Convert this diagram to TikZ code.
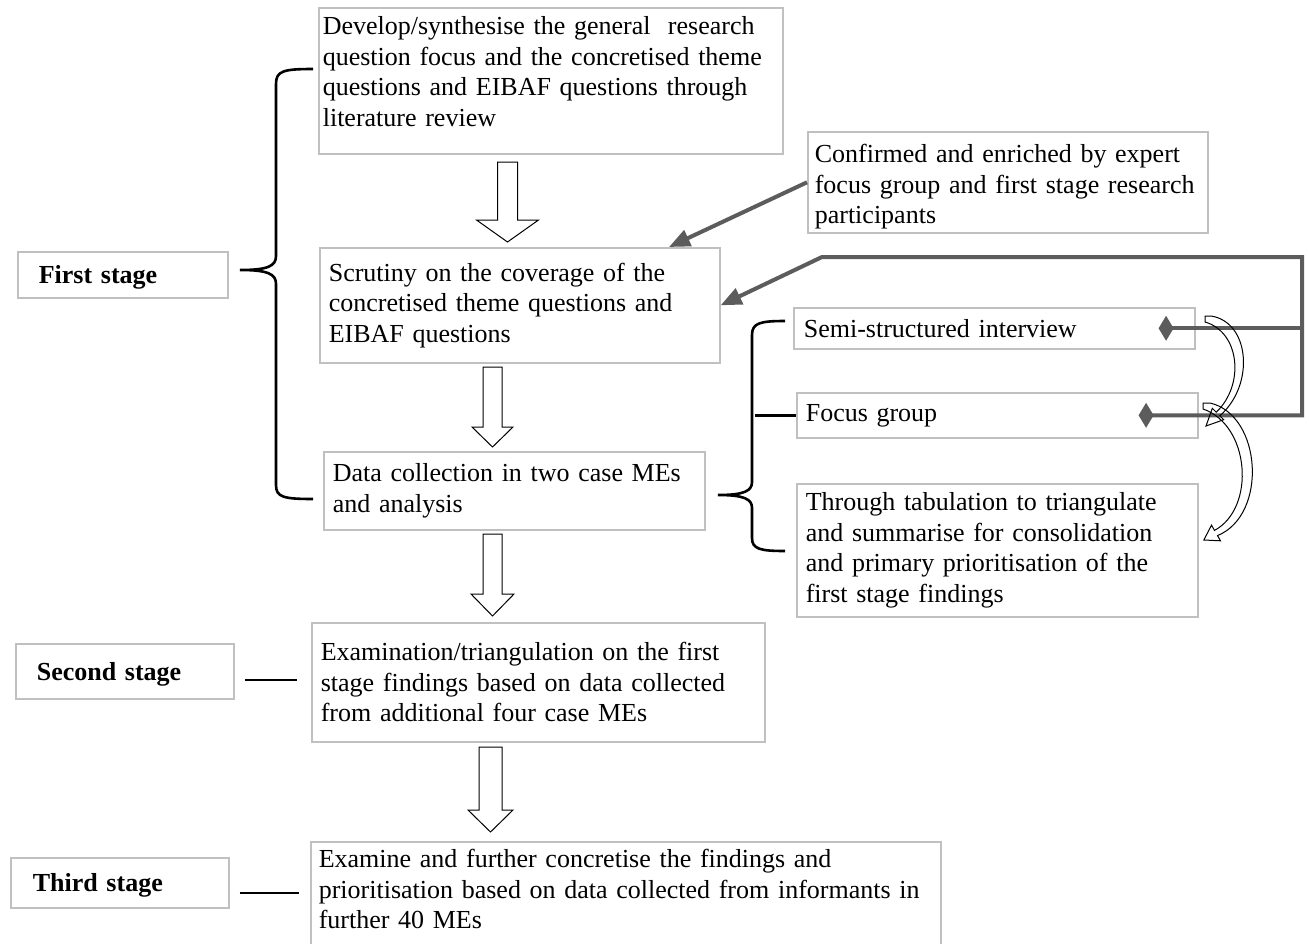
\documentclass[tikz,border=0pt]{standalone}
\usepackage{fontspec}
\setmainfont{Liberation Serif}
\usepackage{tikz}
\usetikzlibrary{calc,positioning,arrows.meta}
\usepackage{xcolor}
\definecolor{boxgray}{RGB}{192,192,192}
\definecolor{feedgray}{RGB}{92,92,92}

\begin{document}
\begin{tikzpicture}[x=1pt, y=-1pt,
    textbox/.style={draw=boxgray, line width=1.6pt, anchor=north west, align=left,
      inner xsep=9pt, inner ysep=0pt, font=\fontsize{26}{30.5}\selectfont},
    stagebox/.style={textbox, inner xsep=21pt, text depth=0pt},
    hollow/.style={draw=black, line width=1pt, line join=miter},
    bracket/.style={draw=black, line width=2.6pt},
    feed/.style={draw=feedgray, line width=4pt}]
  \useasboundingbox (0,0) rectangle (1309,943);

  % Main column
  \node[textbox, inner xsep=4pt, text width=456pt, minimum height=146pt, text depth=110pt] (dev) at (318,7)
    {Develop/synthesise the general~ research\\question focus and the concretised theme\\questions and EIBAF questions through\\literature review};
  \node[textbox, text width=382pt, minimum height=115pt] (scrut) at (319,247)
    {Scrutiny on the coverage of the\\concretised theme questions and\\EIBAF questions};
  \node[textbox, text width=363pt, minimum height=78pt] (data) at (323,451)
    {Data collection in two case MEs\\and analysis};
  \node[textbox, text width=435pt, minimum height=119pt] (exam) at (311,622)
    {Examination/triangulation on the first\\stage findings based on data collected\\from additional four case MEs};
  \node[textbox, inner xsep=8pt, text width=614pt, minimum height=104pt, text depth=70pt] (further) at (310,841)
    {Examine and further concretise the findings and\\\mbox{prioritisation based on data collected from informants in}\\further 40 MEs};

  % Side boxes
  \node[textbox, inner xsep=7pt, text width=386pt, minimum height=101pt, text depth=57pt] (conf) at (807,131)
    {Confirmed and enriched by expert\\\mbox{focus group and first stage research}\\participants};
  \node[textbox, inner xsep=10pt, text width=381pt, minimum height=41pt] (semi) at (793,307)
    {Semi-structured interview};
  \node[textbox, text width=383pt, minimum height=45pt] (focus) at (796,392)
    {Focus group};
  \node[textbox, text width=383pt, minimum height=133pt] (through) at (796,483)
    {Through tabulation to triangulate\\and summarise for consolidation\\and primary prioritisation of the\\first stage findings};

  % Stages
  \node[stagebox, text width=168pt, minimum height=46pt] (first) at (17,251) {\textbf{First stage}};
  \node[stagebox, text width=176pt, minimum height=55pt] (second) at (15,643) {\textbf{Second stage}};
  \node[stagebox, inner xsep=22pt, text width=174pt, minimum height=50pt] (third) at (10,857) {\textbf{Third stage}};

  % Hollow down arrows
  \foreach \cx/\ya/\yb/\yc/\sw/\hw in {507.5/162/220/242/10/31, 492.5/367/427/447/9.5/20.5,
      492.5/534/594/616/9.5/21.5, 490.5/747/810/832/11.5/22.5}
    \draw[hollow] ({\cx-\sw},\ya) -- ({\cx+\sw},\ya) -- ({\cx+\sw},\yb) -- ({\cx+\hw},\yb)
      -- (\cx,\yc) -- ({\cx-\hw},\yb) -- ({\cx-\sw},\yb) -- cycle;

  % Braces
  \draw[bracket] (313,69) .. controls (283,69) and (276,71) .. (276,84) -- (276,256)
    .. controls (276,266) and (268,270) .. (240,270) .. controls (268,270) and (276,274) .. (276,284)
    -- (276,485) .. controls (276,497) and (283,499) .. (313,499);
  \draw[bracket] (785,321) .. controls (760,321) and (752,323) .. (752,335) -- (752,482)
    .. controls (752,491) and (744,495) .. (718,495) .. controls (744,495) and (752,499) .. (752,508)
    -- (752,538) .. controls (752,549) and (760,551) .. (785,551);
  \draw[bracket] ($(focus.west)+(-41,0)$) -- (focus.west);
  \draw[bracket] ($(exam.west)+(-14,-2.5)$) -- ($(exam.west)+(-66,-2.5)$);
  \draw[bracket] ($(third.east)+(10,10)$) -- ($(third.east)+(69,10)$);

  % Feedback lines
  \coordinate (fbR) at (1302,257);
  \coordinate (fbL) at (822,257);
  \draw[feed, -{Triangle[length=21pt,width=17pt]}] (conf.west) -- ($(scrut.north west)+(350,0)$);
  \draw[feed, {Diamond[length=15pt,width=25pt]}-{Triangle[length=21pt,width=17pt]}]
    ($(focus.east)+(-60,0)$) -- (focus.east -| fbR) -- (fbR) -- (fbL) -- (scrut.east);
  \draw[feed, {Diamond[length=15pt,width=25pt]}-] ($(semi.east)+(-37,0)$) -- (semi.east -| fbR);

  % Curved hollow arrows
  \draw[hollow] (1205,322) -- (1205,316) -- (1211,316) .. controls (1250,322) and (1255,385) .. (1219.8,415.8)
    -- (1223.7,419.7) -- (1206,426) -- (1212.3,408.3) -- (1216.2,412.2)
    .. controls (1245,385) and (1240,332) .. (1205,322) -- cycle;
  \draw[hollow] (1203,409) -- (1203,403) -- (1210,403) .. controls (1262,415) and (1268,515) .. (1217.5,535.6)
    -- (1220.5,540.8) -- (1203.8,540) -- (1211.5,525.2) -- (1214.5,530.4)
    .. controls (1256,508) and (1250,425) .. (1203,409) -- cycle;
\end{tikzpicture}
\end{document}
